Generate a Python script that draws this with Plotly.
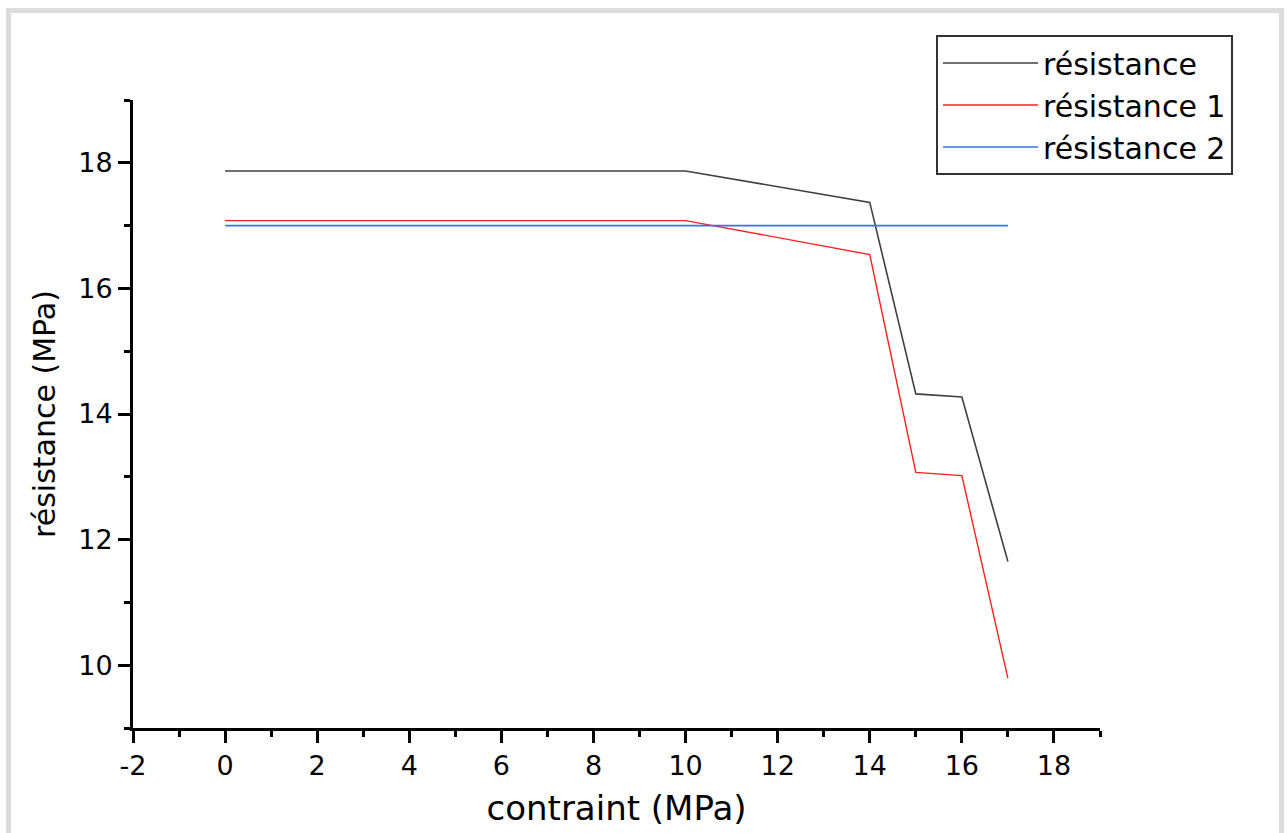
import plotly.graph_objects as go

# Data
contrainte = [0, 10, 14, 15, 16, 17]
resistance = [17.87, 17.87, 17.37, 14.32, 14.27, 11.65]
resistance_1 = [17.08, 17.08, 16.54, 13.07, 13.02, 9.79]
contrainte_2 = [0, 17]
resistance_2 = [17.0, 17.0]

series_names = ["résistance", "résistance 1", "résistance 2"]
x_tick_vals = [-2, 0, 2, 4, 6, 8, 10, 12, 14, 16, 18]
x_tick_text = ["-2", "0", "2", "4", "6", "8", "10", "12", "14", "16", "18"]
y_tick_vals = [10, 12, 14, 16, 18]
y_tick_text = ["10", "12", "14", "16", "18"]

FONT = "DejaVu Sans"

fig = go.Figure()
fig.add_trace(go.Scatter(x=contrainte, y=resistance, mode="lines", name=series_names[0],
                         line=dict(color="#404040", width=1.6)))
fig.add_trace(go.Scatter(x=contrainte, y=resistance_1, mode="lines", name=series_names[1],
                         line=dict(color="#ff2020", width=1.4)))
fig.add_trace(go.Scatter(x=contrainte_2, y=resistance_2, mode="lines", name=series_names[2],
                         line=dict(color="#3575e0", width=1.6)))

L, R, T, B = 133, 187, 100, 105
W, H = 1287, 833
pw, ph = W - L - R, H - T - B


def px(x):
    return (x - L) / pw


def py(y):
    return (H - B - y) / ph


axis_common = dict(
    showline=True, linecolor="black", linewidth=3, mirror=False,
    ticks="outside", ticklen=12, tickwidth=3, tickcolor="black",
    showgrid=False, zeroline=False,
    tickfont=dict(family=FONT, size=27, color="black"),
)

fig.update_xaxes(
    range=[-2, 19], tickvals=x_tick_vals, ticktext=x_tick_text, **axis_common,
    minor=dict(ticks="outside", ticklen=6, tickwidth=3, tickcolor="black", dtick=1, tick0=0, showgrid=False),
    title=dict(text="contraint (MPa)", font=dict(family=FONT, size=34, color="black"), standoff=16),
)
fig.update_yaxes(
    range=[9, 19], tickvals=y_tick_vals, ticktext=y_tick_text, **axis_common,
    minor=dict(ticks="outside", ticklen=6, tickwidth=3, tickcolor="black", dtick=1, tick0=0, showgrid=False),
    title=dict(text="résistance (MPa)", font=dict(family=FONT, size=30, color="black"), standoff=14),
)

fig.update_layout(
    width=W, height=H,
    margin=dict(l=L, r=R, t=T, b=B, autoexpand=False),
    paper_bgcolor="white", plot_bgcolor="white",
    showlegend=True,
    legend=dict(
        x=px(936), y=py(35), xanchor="left", yanchor="top",
        bordercolor="#333333", borderwidth=2, bgcolor="white",
        font=dict(family=FONT, size=30, color="black"),
        itemwidth=95, tracegroupgap=0,
        entrywidth=330, entrywidthmode="pixels",
    ),
    shapes=[dict(type="rect", xref="paper", yref="paper",
                 x0=px(8.5), x1=px(1281.5), y0=py(845), y1=py(10.5),
                 line=dict(color="#dcdcdc", width=5), fillcolor="rgba(0,0,0,0)", layer="below")],
)

fig.write_html("out.html")
